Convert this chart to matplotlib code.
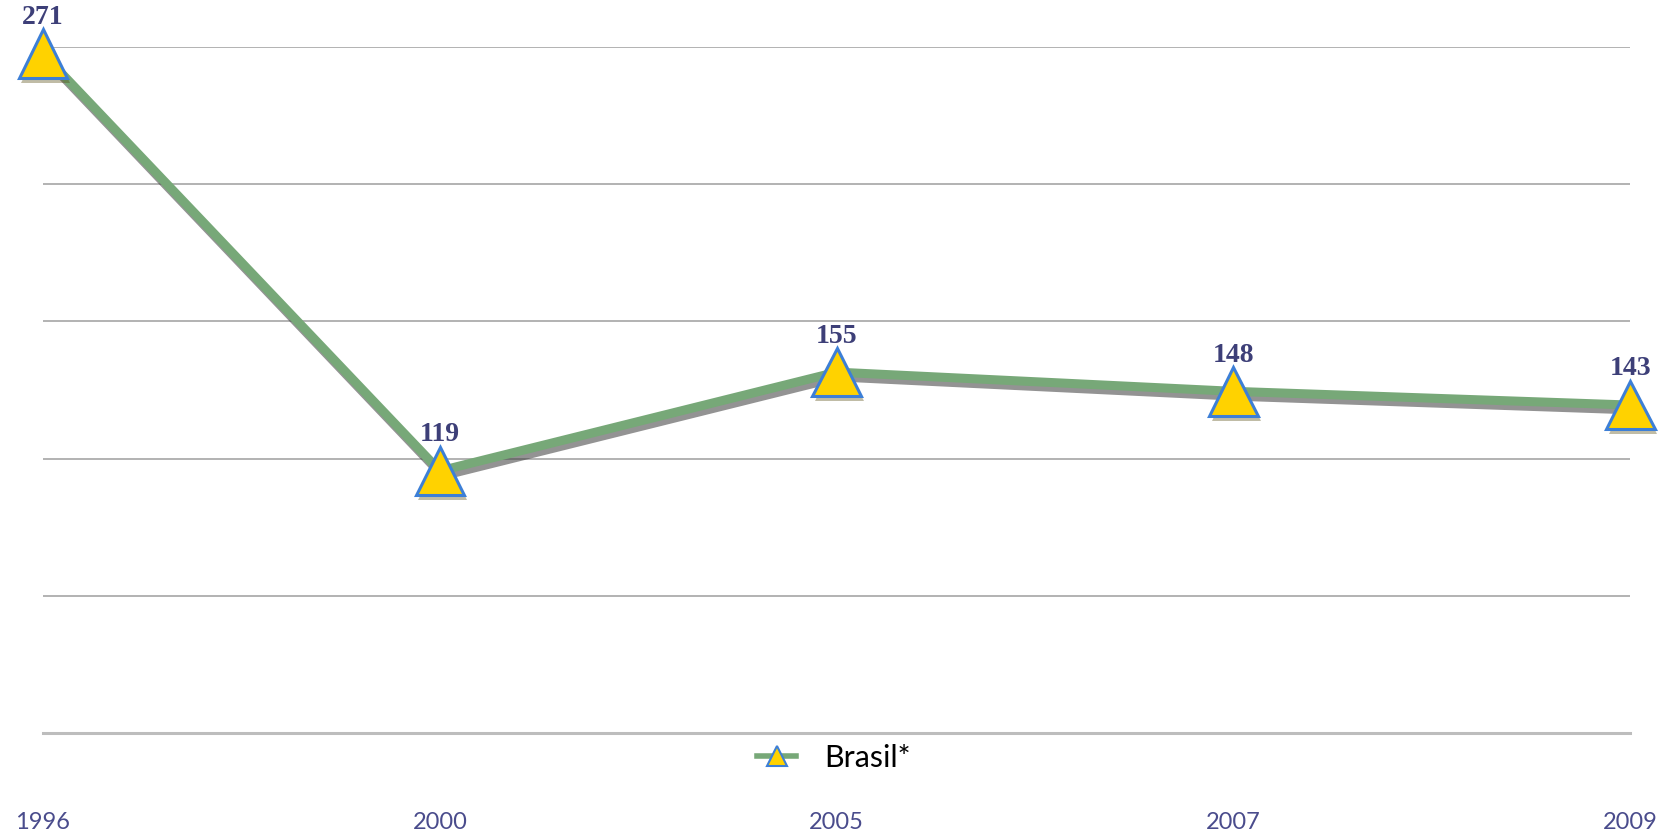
import matplotlib
matplotlib.use("Agg")
import matplotlib.pyplot as plt
import matplotlib.patheffects as pe
import numpy as np
from matplotlib.lines import Line2D

years = ["1996", "2000", "2005", "2007", "2009"]
values = [271, 119, 155, 148, 143]
series_name = "Brasil*"

fig = plt.figure(figsize=(16.67, 8.38), dpi=100)
ax = fig.add_axes([0.0258, 0.1253, 0.978 - 0.0258, 0.944 - 0.1253])

x = np.arange(len(years))
line_shadow = [pe.SimpleLineShadow(offset=(2, -3.5), shadow_color="#3a3a3a", alpha=0.55), pe.Normal()]
ax.plot(x, values, color="#77a878", linewidth=6.5, solid_capstyle="butt", zorder=3,
        path_effects=line_shadow, clip_on=False)
ax.plot(x, values, linestyle="none", marker="^", markersize=35, markerfacecolor="#ffd200",
        markeredgecolor="#3d7fd6", markeredgewidth=2.2, zorder=4, clip_on=False,
        path_effects=[pe.SimplePatchShadow(offset=(2, -3.5), alpha=0.35), pe.Normal()])

for xi, v in zip(x, values):
    ax.annotate(str(v), (xi, v), xytext=(0, 17), textcoords="offset points", ha="center",
                va="bottom", fontsize=20, fontweight="bold", color="#3d3f78",
                family="Liberation Serif", zorder=5, annotation_clip=False)

ylo, yhi = 23.5, 273.5
ax.set_ylim(ylo, yhi)
ax.set_xlim(0, len(years) - 1)
ax.set_yticks(np.linspace(ylo, yhi, 6))
ax.yaxis.grid(True, color="#a6a6a6", linewidth=1.2)
ax.set_axisbelow(True)
ax.tick_params(axis="y", length=0, labelleft=False)
ax.set_xticks(x)
ax.set_xticklabels(years, fontsize=17, color="#4a4c8c", family="Lato")
ax.tick_params(axis="x", length=0, pad=57)
for s in ["top", "right", "left"]:
    ax.spines[s].set_visible(False)
ax.spines["bottom"].set_color("#bdbdbd")
ax.spines["bottom"].set_linewidth(2.2)

handle = Line2D([0], [0], color="#77a878", linewidth=4, marker="^", markersize=15,
                markerfacecolor="#ffd200", markeredgecolor="#3d7fd6", markeredgewidth=1.5)
leg = fig.legend([handle], [series_name], loc="center", bbox_to_anchor=(0.5, 1 - 758 / 838),
                 frameon=False, handlelength=1.3, handletextpad=0.9,
                 prop={"family": "Lato", "size": 22})

fig.savefig("out.png", dpi=100, facecolor="white")
